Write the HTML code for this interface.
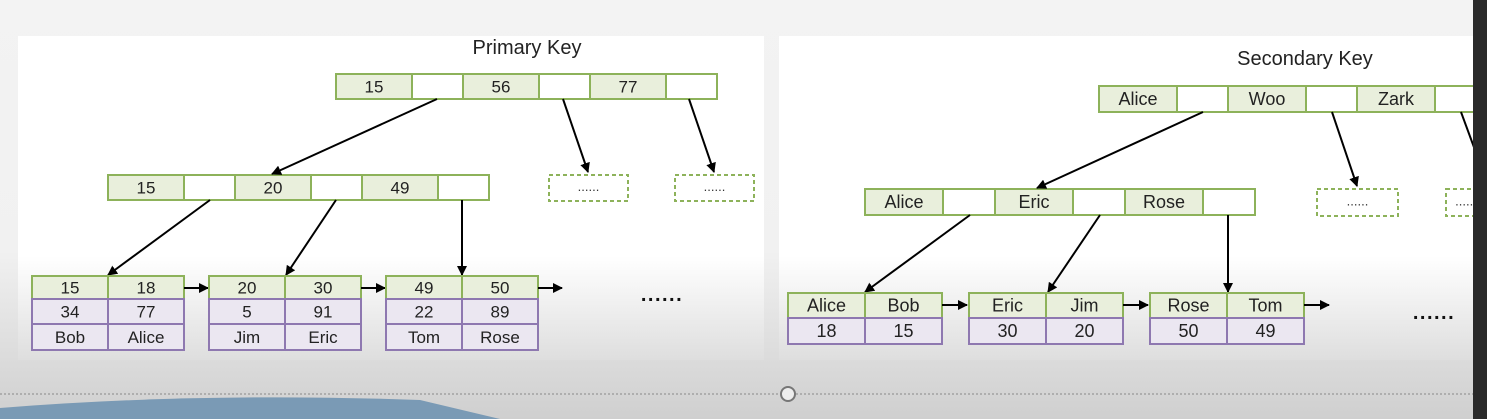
<!DOCTYPE html>
<html><head><meta charset="utf-8">
<style>
html,body{margin:0;padding:0;width:1487px;height:419px;overflow:hidden;background:#ececec;}
svg{display:block;font-family:"Liberation Sans","DejaVu Sans",sans-serif;}
</style></head>
<body>
<svg id="s" width="1487" height="419" viewBox="0 0 1487 419">
<defs>
<linearGradient id="bg" x1="0" y1="0" x2="0" y2="1">
<stop offset="0" stop-color="#f3f3f3"/><stop offset="0.6" stop-color="#f1f1f1"/><stop offset="1" stop-color="#cfcfcf"/>
</linearGradient>
<linearGradient id="pn" x1="0" y1="0" x2="0" y2="1">
<stop offset="0" stop-color="#ffffff"/><stop offset="0.68" stop-color="#ffffff"/><stop offset="1" stop-color="#dedede"/>
</linearGradient>
<marker id="ah" markerWidth="10" markerHeight="10" refX="9" refY="5" orient="auto" markerUnits="userSpaceOnUse">
<path d="M0,0 L10,5 L0,10 z" fill="#000"/></marker>
</defs>
<rect width="1487" height="419" fill="url(#bg)"/>
<rect x="18" y="36" width="746" height="324" fill="url(#pn)"/>
<rect x="779" y="36" width="694" height="324" fill="url(#pn)"/>
<path d="M0,419 L0,408 Q200,392 420,400 L500,419 Z" fill="#7a9ab5"/>
<line x1="0" y1="394" x2="1473" y2="394" stroke="#888" stroke-dasharray="2,2"/>
<circle cx="788" cy="394" r="7" fill="#eee" stroke="#777" stroke-width="2"/>
<rect x="1473" y="0" width="14" height="419" fill="#2a2a2a"/>
<text x="527" y="54" font-size="20" text-anchor="middle" fill="#222">Primary Key</text>
<text x="1305" y="65" font-size="20" text-anchor="middle" fill="#222">Secondary Key</text>
<g id="g"></g>
</svg>
<script>
const pTop = ["15","56","77"];
const pMid = ["15","20","49"];
const pLeafKeys = [["15","18"],["20","30"],["49","50"]];
const pLeafAge = [["34","77"],["5","91"],["22","89"]];
const pLeafName = [["Bob","Alice"],["Jim","Eric"],["Tom","Rose"]];
const sTop = ["Alice","Woo","Zark"];
const sMid = ["Alice","Eric","Rose"];
const sLeafKeys = [["Alice","Bob"],["Eric","Jim"],["Rose","Tom"]];
const sLeafId = [["18","15"],["30","20"],["50","49"]];

const NS="http://www.w3.org/2000/svg";
const g=document.getElementById('g');
function el(t,a,txt){const e=document.createElementNS(NS,t);for(const k in a)e.setAttribute(k,a[k]);if(txt!=null)e.textContent=txt;g.appendChild(e);return e;}
const GREEN="#8db25a",PURPLE="#8e78b0";
function cell(x,y,w,h,fill,stroke,txt,fs,name){
  const r=el('rect',{x:x,y:y,width:w,height:h,fill:fill,stroke:stroke,'stroke-width':2});
  
  
  if(txt!=null){const t=el('text',{x:x+w/2,y:y+h/2+6,'font-size':fs,'text-anchor':'middle',fill:'#222'},txt);
    
    }
}
function inner(keys,x,y,kw,pw,h,fs,name){
  let cx=x;
  keys.forEach((k,i)=>{cell(cx,y,kw,h,'#e9efdc',GREEN,k,fs,name+'-key');cx+=kw;cell(cx,y,pw,h,'#fff',GREEN,null,fs,name+'-pointer');cx+=pw;});
}
function dashed(x,y,w,h){
  const r=el('rect',{x:x,y:y,width:w,height:h,fill:'#fff',stroke:GREEN,'stroke-width':2,'stroke-dasharray':'4,3'});
  
  
  const t=el('text',{x:x+w/2,y:y+h/2+3,'font-size':13,'text-anchor':'middle',fill:'#333'},'......');
  
  
}
function arrow(x1,y1,x2,y2){
  const l=el('line',{x1:x1,y1:y1,x2:x2,y2:y2,stroke:'#000','stroke-width':2,'marker-end':'url(#ah)'});
  
  
}
// Primary
inner(pTop,336,74,76,51,25,17,'primary-root');
inner(pMid,108,175,76,51,25,17,'primary-internal');
dashed(549,175,79,26);dashed(675,175,79,26);
arrow(437,99,272,174);arrow(563,99,588,172);arrow(689,99,714,172);
arrow(210,200,108,275);arrow(336,200,286,275);arrow(462,200,462,275);
const pLx=[32,209,386];
pLx.forEach((x,i)=>{
  for(let j=0;j<2;j++){
    cell(x+j*76,276,76,23,'#e9efdc',GREEN,pLeafKeys[i][j],17,'primary-leaf-key');
    cell(x+j*76,299,76,25,'#ebe7f1',PURPLE,pLeafAge[i][j],17,'primary-leaf-age');
    cell(x+j*76,324,76,26,'#ebe7f1',PURPLE,pLeafName[i][j],17,'primary-leaf-name');
  }
  arrow(x+152,288,x+176,288);
});
let d=el('text',{x:662,y:301,'font-size':20,'letter-spacing':'1.5','text-anchor':'middle',fill:'#111','font-weight':'bold'},'......');


// Secondary
inner(sTop,1099,86,78,51,26,18,'secondary-root');
inner(sMid,865,189,78,52,26,18,'secondary-internal');
dashed(1317,189,81,27);dashed(1446,189,40,27);
arrow(1203,112,1037,188);arrow(1332,112,1357,186);
el('line',{x1:1461,y1:112,x2:1475,y2:150,stroke:'#000','stroke-width':2});
arrow(970,215,865,292);arrow(1100,215,1048,292);arrow(1228,215,1228,292);
const sLx=[788,969,1150];
sLx.forEach((x,i)=>{
  for(let j=0;j<2;j++){
    cell(x+j*77,293,77,25,'#e9efdc',GREEN,sLeafKeys[i][j],18,'secondary-leaf-key');
    cell(x+j*77,318,77,26,'#ebe7f1',PURPLE,sLeafId[i][j],18,'secondary-leaf-id');
  }
  arrow(x+154,305,x+179,305);
});
d=el('text',{x:1434,y:319,'font-size':20,'letter-spacing':'1.5','text-anchor':'middle',fill:'#111','font-weight':'bold'},'......');


// redraw dark panel on top
const dp=el('rect',{x:1473,y:0,width:14,height:419,fill:'#2a2a2a'});


</script>
</body></html>
